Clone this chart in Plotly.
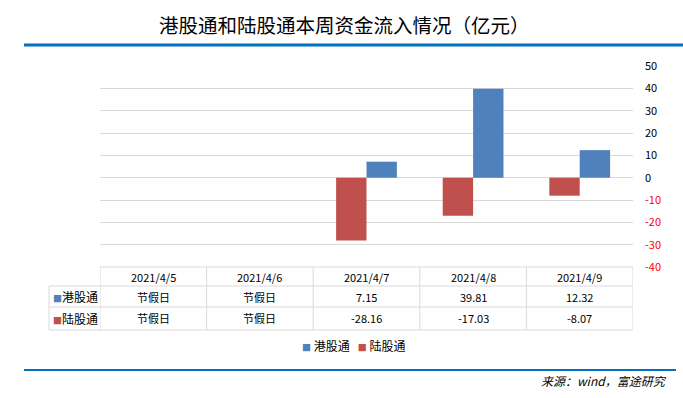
import plotly.graph_objects as go

categories = ["2021/4/5", "2021/4/6", "2021/4/7", "2021/4/8", "2021/4/9"]
hk_values = [None, None, 7.15, 39.81, 12.32]     # 港股通
sh_values = [None, None, -28.16, -17.03, -8.07]  # 陆股通
series_names = ["港股通", "陆股通"]
holiday_text = "节假日"
y_ticks = [50, 40, 30, 20, 10, 0, -10, -20, -30, -40]
title_text = "港股通和陆股通本周资金流入情况（亿元）"
source_text = "来源：wind，富途研究"

BLUE = "#4f81bd"
RED = "#c0504d"
GRID = "#d9d9d9"
LINE_BLUE = "#0070c0"
FONT = "Noto Sans CJK SC, Microsoft YaHei, sans-serif"

xi = list(range(len(categories)))

fig = go.Figure()
fig.add_trace(go.Bar(x=xi, y=sh_values, name=series_names[1], marker=dict(color=RED, line=dict(width=0)), hoverinfo="skip"))
fig.add_trace(go.Bar(x=xi, y=hk_values, name=series_names[0], marker=dict(color=BLUE, line=dict(width=0)), hoverinfo="skip"))

def tick_label(v):
    if v < 0:
        return f'<span style="color:#ff0000">{v}</span>'
    return str(v)

W, H = 683, 398
L, R, T, B = 100, 50, 66, 131
pw, ph = W - L - R, H - T - B

def py(ypx):
    return (T + ph - ypx) / ph

def px(xpx):
    return (xpx - L) / pw

fig.update_layout(
    width=W, height=H,
    margin=dict(l=L, r=R, t=T, b=B, pad=0),
    paper_bgcolor="white", plot_bgcolor="white",
    barmode="group", bargap=0.43, bargroupgap=0,
    font=dict(family=FONT, size=11, color="#000000"),
    showlegend=False,
    xaxis=dict(range=[-0.5, len(categories) - 0.5], showticklabels=False, showgrid=False,
               zeroline=False, showline=False, fixedrange=True),
    yaxis=dict(side="right", range=[-40, 50], tickvals=y_ticks,
               ticktext=[tick_label(v) for v in y_ticks], showgrid=True, gridcolor=GRID,
               gridwidth=1, zeroline=True, zerolinecolor=GRID, zerolinewidth=1,
               ticks="", ticklabelstandoff=11, showline=False, fixedrange=True,
               tickfont=dict(size=11, family=FONT, color="#000000")),
)

shapes = []
y_top, y_r1, y_r2, y_bot = py(267), py(286), py(307), py(330)
x_left = px(49)
shapes.append(dict(type="line", xref="paper", yref="paper", x0=0, x1=1, y0=y_top, y1=y_top, line=dict(color=GRID, width=1)))
for yy in (y_r1, y_r2, y_bot):
    shapes.append(dict(type="line", xref="paper", yref="paper", x0=x_left, x1=1, y0=yy, y1=yy, line=dict(color=GRID, width=1)))
shapes.append(dict(type="line", xref="paper", yref="paper", x0=x_left, x1=x_left, y0=y_r1, y1=y_bot, line=dict(color=GRID, width=1)))
for i in range(len(categories) + 1):
    xb = i - 0.5
    shapes.append(dict(type="line", xref="x", yref="paper", x0=xb, x1=xb, y0=y_top, y1=y_bot, line=dict(color=GRID, width=1)))
shapes.append(dict(type="line", xref="paper", yref="paper", x0=px(24), x1=px(683), y0=py(45), y1=py(45), line=dict(color=LINE_BLUE, width=3)))
shapes.append(dict(type="line", xref="paper", yref="paper", x0=px(24), x1=px(676), y0=py(370), y1=py(370), line=dict(color=LINE_BLUE, width=2)))
fig.update_layout(shapes=shapes)

ann = []
ann.append(dict(text=title_text, xref="paper", yref="paper", x=px(344), y=py(25), xanchor="center", yanchor="middle",
                showarrow=False, font=dict(size=19.5, family=FONT, color="#000000")))
ann.append(dict(text=f"<i>{source_text}</i>", xref="paper", yref="paper", x=px(669), y=py(380), xanchor="right", yanchor="middle",
                showarrow=False, font=dict(size=12, family=FONT, color="#000000")))

# legend (blue first, red second)
legend_items = [(series_names[0], BLUE), (series_names[1], RED)]
legend_text = "   ".join(f'<span style="color:{c};font-size:9px">■</span> {n}' for n, c in legend_items)
ann.append(dict(text=legend_text, xref="paper", yref="paper", x=px(354), y=py(345), xanchor="center", yanchor="middle",
                showarrow=False, font=dict(size=12, family=FONT)))

y_hdr = py(276.5)
y_row = [py(296.5), py(318)]
rows = [(series_names[0], BLUE, hk_values), (series_names[1], RED, sh_values)]
for i, c in enumerate(categories):
    ann.append(dict(text=c, xref="x", yref="paper", x=i, y=y_hdr, xanchor="center", yanchor="middle",
                    showarrow=False, font=dict(size=11, family=FONT)))
for r, (name, col, vals) in enumerate(rows):
    ann.append(dict(text=f'<span style="color:{col};font-size:9px">■</span>{name}', xref="paper", yref="paper", x=px(51), y=y_row[r],
                    xanchor="left", yanchor="middle", showarrow=False, font=dict(size=12, family=FONT)))
    for i, v in enumerate(vals):
        t = holiday_text if v is None else f"{v:.2f}"
        ann.append(dict(text=t, xref="x", yref="paper", x=i, y=y_row[r], xanchor="center", yanchor="middle",
                        showarrow=False, font=dict(size=11, family=FONT)))
fig.update_layout(annotations=ann)

fig.write_html("out.html", config={"displayModeBar": False, "staticPlot": True},
               post_script="document.body.style.margin='0';document.body.style.padding='0';")
